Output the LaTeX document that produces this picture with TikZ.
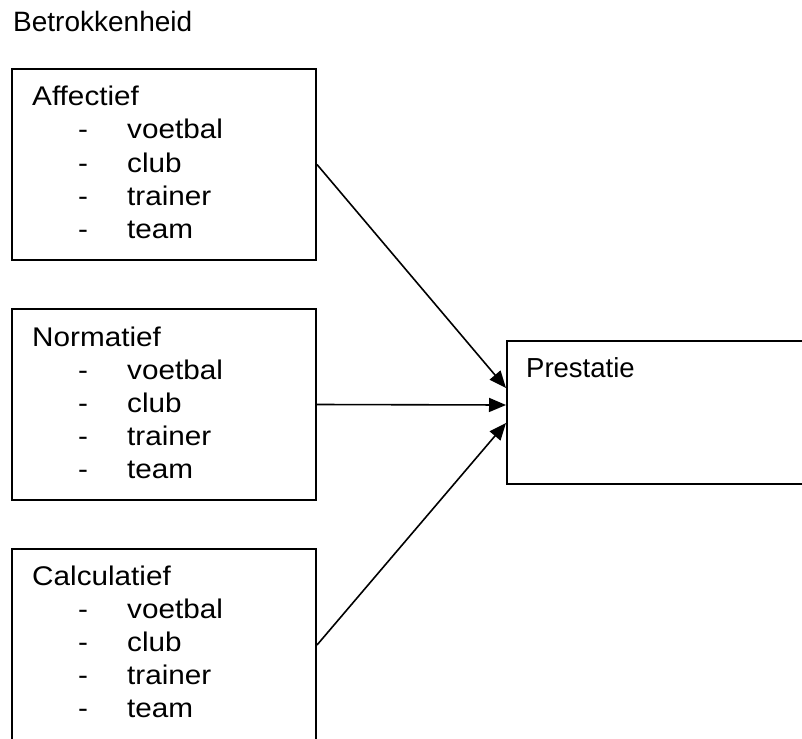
\documentclass[tikz,border=0pt]{standalone}
\usepackage{fontspec}
\setmainfont{Liberation Sans}
\newfontfamily\widefont[FakeStretch=1.1]{Liberation Sans}
\usetikzlibrary{arrows.meta}

\tikzset{
  panel/.style={draw, line width=2pt, rectangle, inner sep=0pt, anchor=north west},
  label/.style={anchor=base west, inner sep=0pt, font=\widefont\fontsize{27}{32}\selectfont},
  link/.style={line width=1.6pt, -{Triangle[length=17pt,width=14pt]}}
}

\begin{document}
\begin{tikzpicture}[x=1pt,y=-1pt]
  \useasboundingbox (0,0) rectangle (802,738);
  \clip (0,0) rectangle (802,738);

  % heading
  \node[anchor=base west, inner sep=0pt, font=\fontsize{28}{32}\selectfont] (title) at (13,32) {Betrokkenheid};

  % the three kinds of involvement
  \node[panel, minimum width=304pt, minimum height=191pt] (aff) at (11,68) {};
  \node[panel, minimum width=304pt, minimum height=191pt] (nor) at (11,308) {};
  \node[panel, minimum width=304pt, minimum height=192pt] (cal) at (11,548) {};

  % outcome
  \node[panel, minimum width=320pt, minimum height=143pt] (pre) at (506,340) {};
  \node[anchor=base west, inner sep=0pt, font=\fontsize{27.5}{32}\selectfont] (pretxt) at (526,377) {Prestatie};

  % headings and item lists inside each panel
  \foreach \name/\head/\y in {a/Affectief/106, n/Normatief/346, c/Calculatief/585} {
    \node[label] (\name-head) at (32,\y) {\head};
    \foreach \item [count=\i] in {voetbal, club, trainer, team} {
      \node[label] (\name-dash-\i) at (78,\y+33*\i) {-};
      \node[label] (\name-item-\i) at (127,\y+33*\i) {\item};
    }
  }

  % arrows into the outcome
  \draw[link] (aff.east) -- ([yshift=24.5pt]pre.west);
  \draw[link] (nor.east) -- ([yshift=7.5pt]pre.west);
  \draw[link] (cal.east) -- ([yshift=-10.5pt]pre.west);
\end{tikzpicture}
\end{document}
